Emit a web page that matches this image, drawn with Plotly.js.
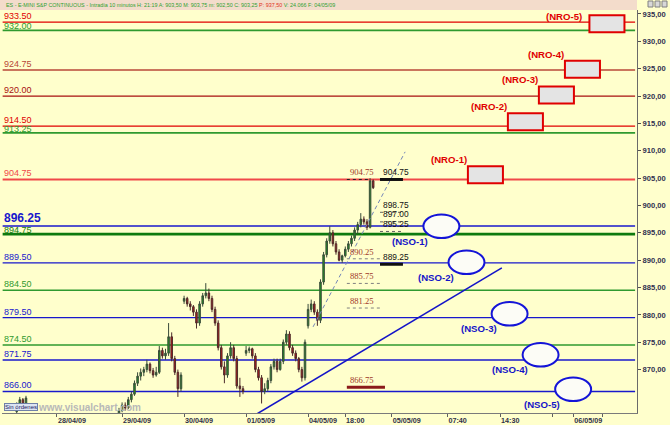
<!DOCTYPE html>
<html><head><meta charset="utf-8">
<script src="https://cdn.plot.ly/plotly-3.0.1.min.js"></script>
<style>html,body{margin:0;padding:0;background:#ffffcc;}#chart{width:670px;height:425px;}</style>
</head><body><div id="chart"></div>
<script>
// ---- price data (10-minute bars, bar index along time axis) ----
const barIndex = [-13,-12,-11,-10,
 20,21,22,23,24,25,26,27,28,29,30,31,32,33,34,35,36,37,38,39,40,
 41,42,43,44,45,46,47,48,49,50,51,52,53,54,55,56,57,58,59,60,
 61,62,63,64,65,66,67,68,69,70,71,72,73,74,75,76,77,78,79,80,
 81,82,83,84,85,86,87,88,89,90,91,92,93,94,95,96,97,98,99,100,101,102];
const openP = [862.3,863.5,864.5,863.5,
 862.0,862.5,863.5,863.0,864.5,865.5,867.5,868.8,869.5,870.0,871.0,869.8,869.0,869.5,873.5,872.5,873.0,876.0,872.0,869.5,866.5,
 882.5,883.0,882.0,881.5,880.5,878.5,882.0,883.5,884.0,883.0,881.0,878.5,874.0,870.5,869.0,872.5,874.0,872.0,867.0,866.5,
 873.0,873.5,873.8,872.5,870.0,868.5,866.0,866.5,868.0,870.5,871.5,870.0,871.5,875.0,876.5,874.0,873.0,872.0,870.0,868.5,
 878.0,881.0,882.0,880.5,879.0,886.0,891.0,893.5,895.0,893.0,891.5,890.0,890.8,892.0,893.0,894.0,895.5,896.5,897.5,897.0,896.0,904.5];
const highP = [864.0,865.0,864.8,865.2,
 863.0,864.0,864.0,865.0,866.0,868.0,869.5,870.2,870.5,871.8,871.3,870.3,870.5,874.3,874.0,873.8,878.5,876.8,872.5,870.0,869.5,
 883.5,883.3,882.5,881.8,881.0,882.5,884.0,885.8,884.8,883.5,881.5,879.0,874.5,871.5,873.0,875.0,874.5,872.5,868.5,867.0,
 874.3,874.2,874.0,873.0,870.5,869.0,867.5,868.5,871.0,872.0,872.0,872.0,875.5,877.2,877.0,874.5,873.5,872.3,870.5,875.5,
 882.0,882.8,882.5,881.0,886.5,891.5,894.0,896.2,895.5,893.5,892.0,891.0,892.5,893.5,894.5,896.0,897.0,898.6,898.0,897.5,905.0,904.75];
const lowP = [862.0,863.0,863.0,863.2,
 861.5,862.2,862.5,862.8,864.0,865.2,867.0,868.0,868.8,869.5,869.3,868.5,868.7,869.2,872.0,871.8,872.5,871.5,869.0,865.0,866.0,
 882.0,881.5,880.8,879.8,877.5,878.0,881.5,883.0,882.5,880.5,878.0,873.5,870.0,867.5,868.5,872.0,871.5,866.5,865.0,865.5,
 872.5,873.0,872.0,869.5,868.0,863.8,865.5,866.0,867.5,870.0,869.5,869.8,871.0,874.5,873.5,872.5,871.5,869.5,867.8,868.0,
 877.5,880.5,880.0,878.0,878.5,885.5,890.5,893.0,892.5,891.0,889.8,889.5,890.5,891.5,892.5,893.5,894.8,896.0,896.5,895.5,895.8,903.0];
const closeP = [863.5,864.5,863.5,864.8,
 862.5,863.5,863.0,864.5,865.5,867.5,868.8,869.5,870.0,871.0,869.8,869.0,869.5,873.5,872.5,873.0,876.0,872.0,869.5,866.5,869.0,
 883.0,882.0,881.5,880.5,878.5,882.0,883.5,884.0,883.0,881.0,878.5,874.0,870.5,869.0,872.5,874.0,872.0,867.0,866.5,866.0,
 873.5,873.8,872.5,870.0,868.5,866.0,866.5,868.0,870.5,871.5,870.0,871.5,875.0,876.5,874.0,873.0,872.0,870.0,868.5,875.0,
 881.0,882.0,880.5,879.0,886.0,891.0,893.5,895.0,893.0,891.5,890.0,890.8,892.0,893.0,894.0,895.5,896.5,897.5,897.0,896.0,904.5,903.25];

// ---- horizontal levels ----
const levelPrice = [933.5,932.0,924.75,920.0,914.5,913.25,904.75,896.25,894.75,889.5,884.5,879.5,874.5,871.75,866.0];
const levelText  = ['933.50','932.00','924.75','920.00','914.50','913.25','904.75','896.25','894.75','889.50','884.50','879.50','874.50','871.75','866.00'];
const levelColor = ['#e00000','#2f9a2f','#b84838','#a81010','#e00000','#2f9a2f','#f04848','#1818cc','#0e7a0e','#1818cc','#2f9a2f','#1818cc','#2f9a2f','#1818cc','#1818cc'];
const levelWidth = [1.2,1.8,1.4,1.2,1.2,1.8,2,1.4,2.6,1.4,1.4,1.4,1.4,1.4,1.4];
const levelShift = [0,-1.5,0,0,0,-2.5,0,0,-1.5,0,0,0,0,0,0];

// ---- projected targets ----
const nroNames = ['(NRO-1)','(NRO-2)','(NRO-3)','(NRO-4)','(NRO-5)'];
const nroTime  = [138.2,151.1,161.1,169.5,177.4];
const nroPrice = [905.6,915.3,920.2,924.9,933.2];
const nsoNames = ['(NSO-1)','(NSO-2)','(NSO-3)','(NSO-4)','(NSO-5)'];
const nsoTime  = [124.0,132.1,146.0,156.0,166.5];
const nsoPrice = [896.2,889.6,880.2,872.7,866.4];

// ---- order marks ----
const orderBlack = [904.75,898.75,897.00,895.25,889.25];
const orderBlackText = ['904.75','898.75','897.00','895.25','889.25'];
const orderBrown = [904.75,890.25,885.75,881.25,866.75];
const orderBrownText = ['904.75','890.25','885.75','881.25','866.75'];

// ---- trend lines ----
const supportX = [64.5,143.5], supportY = [861.9,888.6];
const channelX = [82.6,112.3], channelY = [877.8,909.8];

// ---- axes ticks ----
const dateTickPos  = [0,21,41,61,81,108,166.5];
const dateTickText = ['28/04/09','29/04/09','30/04/09','01/05/09','04/05/09','05/05/09','06/05/09'];
const timeTickPos  = [93,126,143,160,176];
const timeTickText = ['18:00','07:40','14:30','',''];
const priceTicks = [935,930,925,920,915,910,905,900,895,890,885,880,875,870];
const priceTickText = ['935,00','930,00','925,00','920,00','915,00','910,00','905,00','900,00','895,00','890,00','885,00','880,00','875,00','870,00'];

const FONT = 'Liberation Sans, Arial, sans-serif';
const px2x = p => (p - 2) / 635;
const py2y = p => (413 - p) / 403;

const traces = [
  {type:'candlestick', x:barIndex, open:openP, high:highP, low:lowP, close:closeP,
   increasing:{line:{color:'#3a4a3a', width:1}, fillcolor:'#1f9a1f'},
   decreasing:{line:{color:'#4a2a2a', width:1}, fillcolor:'#c01818'},
   whiskerwidth:0, hoverinfo:'skip', showlegend:false},
  {type:'scatter', mode:'lines', x:channelX, y:channelY, line:{color:'#7486b8', width:1, dash:'4px,3px'}, hoverinfo:'skip', showlegend:false},
  {type:'scatter', mode:'lines', x:supportX, y:supportY, line:{color:'#1414c8', width:1.6}, hoverinfo:'skip', showlegend:false}
];

const shapes = [];
const annotations = [];

// header bar
shapes.push({type:'rect', xref:'paper', yref:'paper', x0:px2x(0), x1:px2x(637), y0:py2y(10), y1:py2y(0), fillcolor:'#f3dccb', line:{width:0}, layer:'above'});
[648,655,662].forEach(b => shapes.push({type:'rect', xref:'paper', yref:'paper', x0:px2x(b), x1:px2x(b+5), y0:py2y(7), y1:py2y(1), fillcolor:'#d8d8d8', line:{color:'#808080', width:1}}));
annotations.push({xref:'paper', yref:'paper', x:px2x(4), y:py2y(5), xanchor:'left', yanchor:'middle', showarrow:false,
  text:'ES - E-MINI S&amp;P CONTINUOUS - Intradía 10 minutos H: 21:19 A: 903,50 M: 903,75 m: 902,50 C: 903,25 <span style="color:#e03020">P: 937,50</span> V: 24.066 F: 04/05/09',
  font:{family:FONT, size:5.4, color:'#2f9f2f'}});

// level lines + labels
levelPrice.forEach((p,i) => {
  shapes.push({type:'line', xref:'paper', yref:'y', x0:0.001, x1:0.997, y0:p, y1:p, line:{color:levelColor[i], width:levelWidth[i]}, layer:'below'});
  const big = levelText[i] === '896.25';
  annotations.push({xref:'paper', yref:'y', x:0.002, y:p, xanchor:'left', yanchor:'bottom', showarrow:false, borderpad:0, yshift:levelShift[i],
    text:big ? '<b>'+levelText[i]+'</b>' : levelText[i], font:{family:FONT, size:big?12:9, color:levelColor[i]}});
});

// NRO boxes
nroTime.forEach((t,i) => {
  shapes.push({type:'rect', xref:'x', yref:'y', x0:t-5.65, x1:t+5.65, y0:nroPrice[i]-1.55, y1:nroPrice[i]+1.55, fillcolor:'#e4e4e4', line:{color:'#e00000', width:2}});
  const last = i === nroTime.length-1;
  annotations.push({xref:'x', yref:'y', x:t-5.65, y:nroPrice[i]+1.55, xanchor:'right', yanchor:'bottom', showarrow:false, borderpad:0,
    xshift:last?-6:0, yshift:last?-8:0, text:'<b>'+nroNames[i]+'</b>', font:{family:FONT, size:9.6, color:'#e00000'}});
});

// NSO ellipses
nsoTime.forEach((t,i) => {
  shapes.push({type:'circle', xref:'x', yref:'y', x0:t-5.8, x1:t+5.8, y0:nsoPrice[i]-2.15, y1:nsoPrice[i]+2.15, fillcolor:'#fcfcf6', line:{color:'#1414d8', width:2}});
  annotations.push({xref:'x', yref:'y', x:t-5.8, y:nsoPrice[i]-2.15, xanchor:'right', yanchor:'middle', showarrow:false, borderpad:0,
    xshift:6, yshift:-3, text:'<b>'+nsoNames[i]+'</b>', font:{family:FONT, size:9.6, color:'#1414c8'}});
});

// black order marks
orderBlack.forEach((p,i) => {
  const thick = (i === 0 || i === 4);
  shapes.push({type:'line', xref:'x', yref:'y', x0:104.2, x1:thick?111.6:111.9, y0:p, y1:p,
    line:{color:thick?'#101010':'#606060', width:thick?3:1, dash:thick?'solid':'dot'}});
  annotations.push({xref:'x', yref:'y', x:104.8, y:p, xanchor:'left', yanchor:'bottom', showarrow:false, borderpad:0, yshift:thick?1:1.5,
    text:orderBlackText[i], font:{family:FONT, size:8.4, color:'#111111'}});
});
// brown order marks
orderBrown.forEach((p,i) => {
  const thick = (i === 4);
  shapes.push({type:'line', xref:'x', yref:'y', x0:93.5, x1:thick?105.8:(i===0?100.3:104.2), y0:p, y1:p,
    line:{color:thick?'#8b1a1a':(i===0?'#202020':'#808080'), width:thick?3:1, dash:thick?'solid':'dot'}});
  annotations.push({xref:'x', yref:'y', x:94.3, y:p, xanchor:'left', yanchor:'bottom', showarrow:false, borderpad:0, yshift:1,
    text:orderBrownText[i], font:{family:'Liberation Serif, Times New Roman, serif', size:8.6, color:'#a03828'}});
});

// footer items
annotations.push({xref:'paper', yref:'paper', x:px2x(89), y:py2y(407), xanchor:'center', yanchor:'middle', showarrow:false,
  text:'<b>www.visualchart.com</b>', font:{family:FONT, size:10, color:'#b8b8b8'}});
annotations.push({xref:'paper', yref:'paper', x:px2x(21), y:py2y(407), xanchor:'center', yanchor:'middle', showarrow:false,
  text:'Sin órdenes', font:{family:FONT, size:6, color:'#202060'}, bgcolor:'#dde4f2', bordercolor:'#7080a8', borderwidth:1, borderpad:0});

const xRange = [-17.74, 187.1];
const xTickFont = {family:FONT, size:7.2, color:'#303048', weight:'bold'};
const layout = {
  width:670, height:425,
  margin:{l:2, r:33, t:10, b:12, pad:0},
  paper_bgcolor:'#ffffcc', plot_bgcolor:'#ffffcc',
  showlegend:false,
  xaxis:{range:xRange, showgrid:false, zeroline:false, rangeslider:{visible:false},
    showline:true, linecolor:'#7a7a7a', linewidth:1,
    tickmode:'array', tickvals:dateTickPos, ticktext:dateTickText, ticks:'outside', ticklen:3, tickcolor:'#606060',
    ticklabelshift:15, ticklabelstandoff:-3, tickfont:xTickFont, fixedrange:true},
  xaxis2:{range:xRange, overlaying:'x', anchor:'y', side:'bottom', showgrid:false, zeroline:false, showline:false,
    tickmode:'array', tickvals:timeTickPos, ticktext:timeTickText, ticks:'outside', ticklen:3, tickcolor:'#606060',
    ticklabelshift:10, ticklabelstandoff:-3, tickfont:xTickFont, fixedrange:true},
  yaxis:{range:[862.06, 935.73], side:'right', showgrid:false, zeroline:false,
    showline:true, linecolor:'#6a6a6a', linewidth:1, mirror:false,
    tickmode:'array', tickvals:priceTicks, ticktext:priceTickText, ticks:'outside', ticklen:3, tickcolor:'#505050',
    tickfont:{family:FONT, size:7.6, color:'#303050', weight:'bold'}, fixedrange:true},
  shapes:shapes, annotations:annotations
};
traces.push({type:'scatter', mode:'none', x:[timeTickPos[0]], y:[900], xaxis:'x2', yaxis:'y', hoverinfo:'skip', showlegend:false});
Plotly.newPlot('chart', traces, layout, {staticPlot:true, displayModeBar:false});
</script></body></html>
